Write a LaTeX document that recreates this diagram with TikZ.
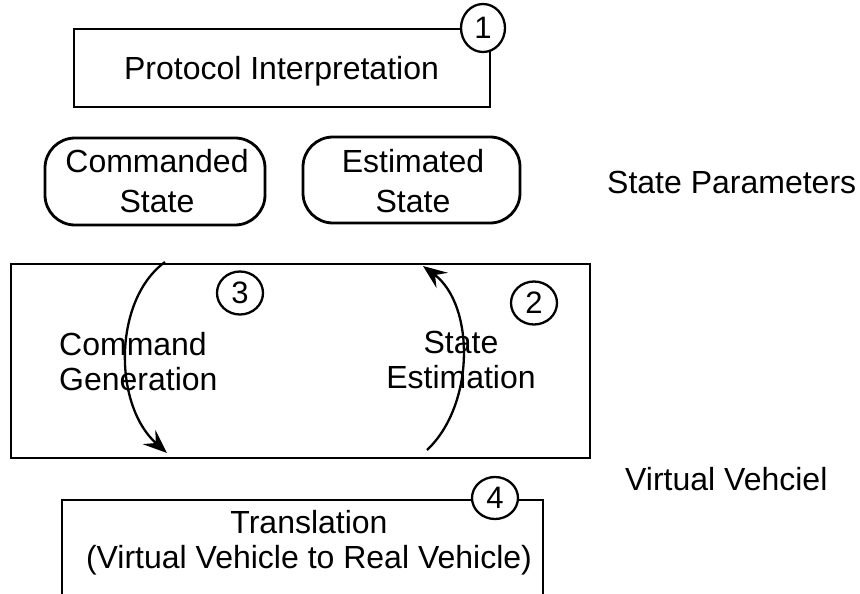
\documentclass[tikz,border=0pt]{standalone}
\usepackage{fontspec}
\setmainfont{Liberation Sans}
\usetikzlibrary{arrows.meta,shapes.geometric}
\begin{document}
\begin{tikzpicture}[x=1pt,y=-1pt,
  txt/.style={font=\fontsize{32}{35}\selectfont, inner sep=0pt},
  box/.style={draw, line width=2.8pt, inner sep=0pt},
  rbox/.style={box, rounded corners=30pt},
  num/.style={draw, ellipse, fill=white, line width=2.3pt, inner sep=0pt, font=\fontsize{31}{31}\selectfont},
  flow/.style={line width=2.3pt, -{Stealth[length=24pt,width=19pt,inset=9pt]}}]
\useasboundingbox[fill=white] (0,0) rectangle (860,594);

% Protocol interpretation
\node[box, minimum width=416pt, minimum height=78pt] (proto) at (282,68) {};
\node[txt, anchor=base] (protot) at (281.5,80) {Protocol Interpretation};
\node[num, minimum width=44pt, minimum height=48pt] (c1) at (483,28) {1};

% State parameters
\node[rbox, minimum width=220pt, minimum height=87pt] (cmd) at (155,181.5) {};
\node[txt, align=center, anchor=base, font=\fontsize{32}{40}\selectfont] (cmdt) at (157,212) {Commanded\\State};
\node[rbox, minimum width=217pt, minimum height=86pt] (est) at (411.5,180) {};
\node[txt, align=center, anchor=base, font=\fontsize{32}{40}\selectfont] (estt) at (413,212) {Estimated\\State};
\node[txt, anchor=base west] (sp) at (607,193) {State Parameters};

% Virtual vehicle
\node[box, minimum width=579pt, minimum height=194pt] (vv) at (300.5,361) {};
\node[txt, align=left, anchor=base west] (cg) at (59,390) {Command\\Generation};
\node[txt, align=center, anchor=base] (se) at (461,388) {State\\Estimation};
\node[num, minimum width=46pt, minimum height=43pt] (c3) at (240,293) {3};
\node[num, minimum width=46pt, minimum height=43pt] (c2) at (534,303) {2};
\node[txt, anchor=base west] (vvl) at (625,490) {Virtual Vehciel};

\coordinate (a1) at (165,262);
\coordinate (a2) at (167,453);
\coordinate (b1) at (427,450);
\coordinate (b2) at (423,266);
\draw[flow] (a1) .. controls (113,300) and (113,405) .. (a2);
\draw[flow] (b1) .. controls (475,405) and (475,305) .. (b2);

% Translation
\coordinate (t1) at (62,600);
\coordinate (t2) at (62,500);
\coordinate (t3) at (543,500);
\coordinate (t4) at (543,600);
\draw[line width=2.8pt] (t1) -- (t2) -- (t3) -- (t4);
\node[txt, align=center, anchor=base] (tr) at (309,568) {Translation\\(Virtual Vehicle to Real Vehicle)};
\node[num, minimum width=46pt, minimum height=42pt] (c4) at (495,498) {4};
\end{tikzpicture}
\end{document}
